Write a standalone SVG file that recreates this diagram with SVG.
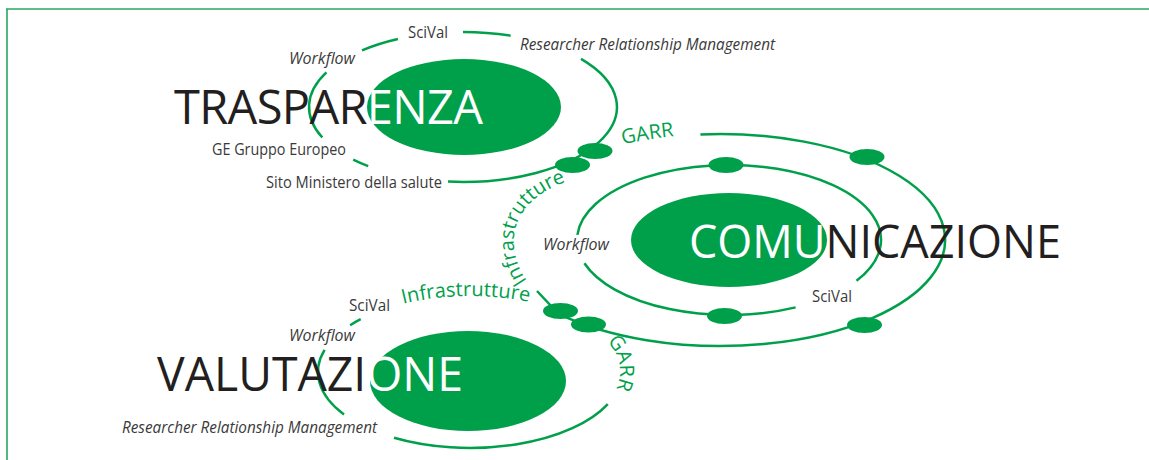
<svg xmlns="http://www.w3.org/2000/svg" width="1149" height="460" viewBox="0 0 1149 460">
<style>
.ring{fill:none;stroke:#00a04b;stroke-width:2.5}
.blob,.dot{fill:#00a04b}
.big{font-family:'Open Sans','Noto Sans',sans-serif}
.k{fill:#231f20}
.w{fill:#ffffff}
.lbl{font-family:'Open Sans','Noto Sans',sans-serif;font-size:16.5px;fill:#3a3a3a}
.it{font-style:italic}
.gl{font-family:'Open Sans','Noto Sans',sans-serif;font-size:20px;fill:#00a04b}
</style>
<defs>
<path id="tp-infra1" d="M527,281 C504,248 506,200 572,180"/>
<path id="tp-infra2" d="M403,303.8 A152,76 0 0,1 557.2,309.7"/>
<path id="tp-garr1" d="M623,144.4 A225,106 0 0,1 688.7,135.0"/>
<path id="tp-garr2" d="M607,341 A150,76 0 0,1 605.9,404.1"/>
</defs>
<g id="frame" fill="none" stroke="#2aa862" stroke-width="1.6">
<path d="M6,9 H1149 M7,9 V460"/>
</g>
<g id="node-trasparenza">
<path class="ring" d="M362.0,50.4 A154,75 0 0,1 397.9,39.0"/>
<path class="ring" d="M463,32 A154,75 0 0,1 510.6,35.7"/>
<path class="ring" d="M581.0,58.8 A154,75 0 0,1 448.0,181.6"/>
<path class="ring" d="M368.2,166.1 A154,75 0 0,1 353.2,159.6"/>
<path class="ring" d="M322.3,137.5 A154,75 0 0,1 326.4,72.4"/>
<ellipse class="blob" cx="464" cy="107" rx="97" ry="48"/>
<text class="lbl" x="408" y="38" textLength="40" lengthAdjust="spacingAndGlyphs">SciVal</text>
<text class="lbl it" x="289" y="64" textLength="66" lengthAdjust="spacingAndGlyphs">Workflow</text>
<text class="lbl it" x="520" y="50" textLength="255" lengthAdjust="spacingAndGlyphs">Researcher Relationship Management</text>
<text class="lbl" x="212" y="155" textLength="134" lengthAdjust="spacingAndGlyphs">GE Gruppo Europeo</text>
<text class="lbl" x="266" y="188" textLength="176" lengthAdjust="spacingAndGlyphs">Sito Ministero della salute</text>
<text class="big" x="174" y="124" font-size="47" textLength="309"><tspan class="k">TRASPAR</tspan><tspan class="w">ENZA</tspan></text>
</g>
<g id="node-comunicazione">
<path class="ring" d="M577.4,234.8 A152,75 0 1,1 856.5,280.8"/>
<path class="ring" d="M795.6,307.4 A152,75 0 0,1 584.4,263.2"/>
<path class="ring" d="M700.4,134.4 A225,106 0 1,1 558.2,313.6 L537,291"/>
<ellipse class="blob" cx="729" cy="240" rx="98" ry="47"/>
<ellipse class="dot" cx="726" cy="165" rx="17.5" ry="8"/>
<ellipse class="dot" cx="724.5" cy="316" rx="17.5" ry="8"/>
<ellipse class="dot" cx="867" cy="157" rx="17.5" ry="8"/>
<ellipse class="dot" cx="864.5" cy="325" rx="17.5" ry="8"/>
<text class="lbl it" x="543" y="250" textLength="66" lengthAdjust="spacingAndGlyphs">Workflow</text>
<text class="lbl" x="812" y="302" textLength="40" lengthAdjust="spacingAndGlyphs">SciVal</text>
<text class="big" x="689" y="258" font-size="45" textLength="372"><tspan class="w">COMU</tspan><tspan class="k">NICAZIONE</tspan></text>
</g>
<g id="node-valutazione">
<path class="ring" d="M344,414.5 A152,76 0 0,1 324.6,349.8"/>
<path class="ring" d="M350.2,325.2 A152,76 0 0,1 360.7,319.2"/>
<path class="ring" d="M607.8,404.1 A152,76 0 0,1 394,437.8"/>
<ellipse class="blob" cx="468" cy="381" rx="98" ry="50"/>
<text class="lbl" x="349" y="311" textLength="41" lengthAdjust="spacingAndGlyphs">SciVal</text>
<text class="lbl it" x="289" y="341" textLength="66" lengthAdjust="spacingAndGlyphs">Workflow</text>
<text class="lbl it" x="122" y="433" textLength="255" lengthAdjust="spacingAndGlyphs">Researcher Relationship Management</text>
<text class="big" x="157" y="391" font-size="47" textLength="306" lengthAdjust="spacingAndGlyphs"><tspan class="k">VALUTAZI</tspan><tspan class="w">ONE</tspan></text>
</g>
<g id="connectors">
<ellipse class="dot" cx="595" cy="151" rx="17.5" ry="8"/>
<ellipse class="dot" cx="572.5" cy="165" rx="17.5" ry="8"/>
<ellipse class="dot" cx="560.5" cy="311" rx="17.5" ry="8"/>
<ellipse class="dot" cx="588.5" cy="324.5" rx="17.5" ry="8"/>
<text class="gl"><textPath href="#tp-infra1">Infrastrutture</textPath></text>
<text class="gl"><textPath href="#tp-infra2">Infrastrutture</textPath></text>
<text class="gl"><textPath href="#tp-garr1">GARR</textPath></text>
<text class="gl" font-size="21"><textPath href="#tp-garr2">GARR</textPath></text>
</g>
</svg>
